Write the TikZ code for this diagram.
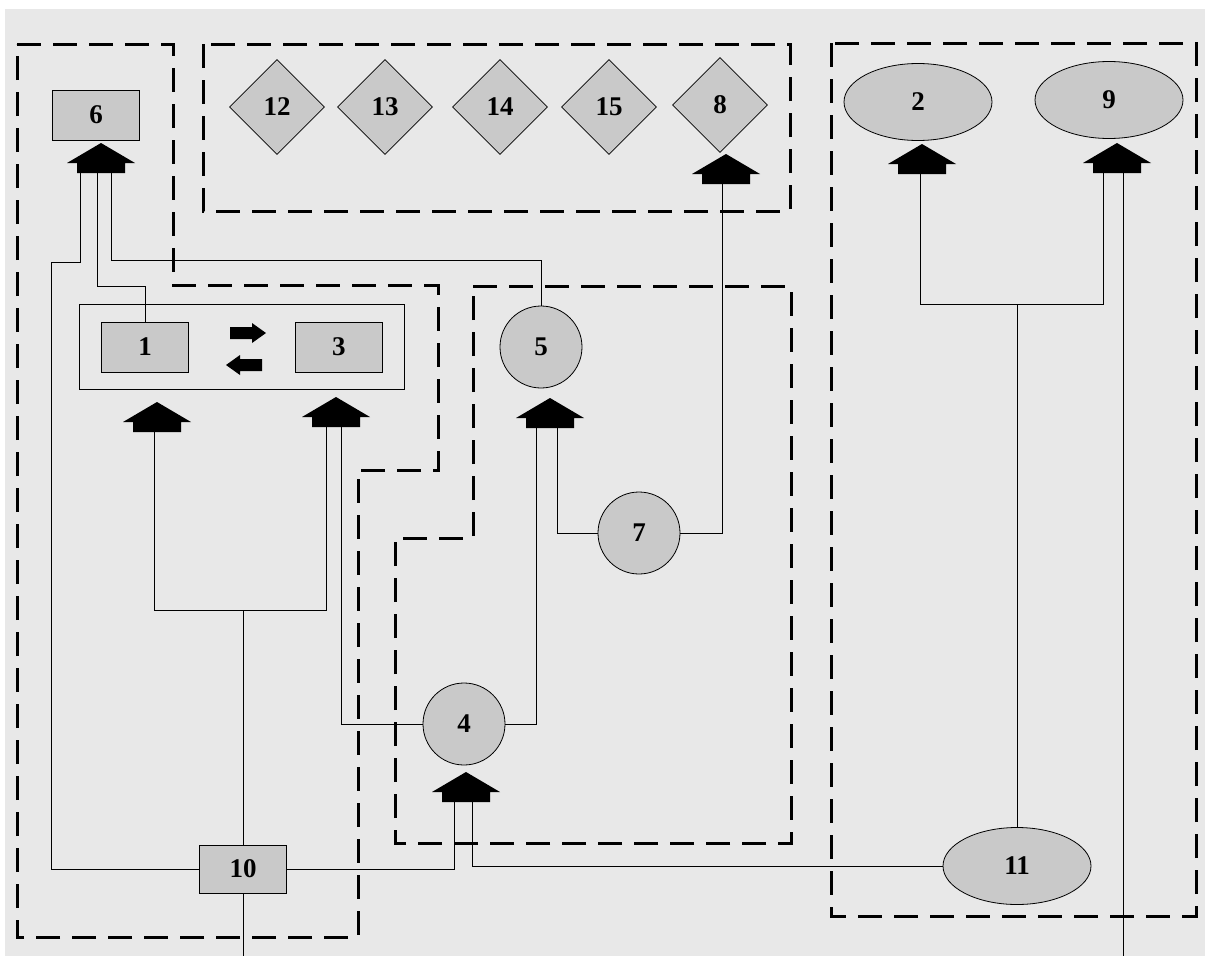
\documentclass[tikz,border=0pt]{standalone}
\usepackage{fontspec}
\setmainfont{Liberation Serif}
\usepackage{xcolor}
\usetikzlibrary{shapes.geometric,positioning,fit}

\definecolor{paper}{gray}{0.91}
\definecolor{shade}{gray}{0.79}

\begin{document}
\begin{tikzpicture}[
  x=1pt, y=-1pt,
  every node/.style={font=\fontsize{27}{32}\selectfont\bfseries, line width=0.8pt},
  unit/.style={rectangle, draw, fill=shade, minimum width=87pt,
               minimum height=50pt, inner sep=0pt},
  dia/.style={diamond, draw, fill=shade, aspect=1, minimum size=95pt, inner sep=0pt},
  disc/.style={circle, draw, fill=shade, minimum size=82pt, inner sep=0pt},
  oval/.style={ellipse, draw, fill=shade, minimum width=148pt,
               minimum height=77pt, inner sep=0pt},
  pairbox/.style={rectangle, draw, inner xsep=22pt, inner ysep=17pt},
  zone/.style={line width=3pt, dash pattern=on 24pt off 12pt},
  wire/.style={line width=0.8pt},
  bigup/.pic={
    \fill (0,0) -- (34,20) -- (24,20) -- (24,30) -- (-24,30) -- (-24,20)
      -- (-34,20) -- cycle;
    \coordinate (-s) at (0,30);
  },
  flat/.pic={
    \fill (0,0) -- (-14,-10) -- (-14,-6) -- (-36,-6) -- (-36,6) -- (-14,6)
      -- (-14,10) -- cycle;
  },
]
  \useasboundingbox (0,0) rectangle (1205,956);
  \fill[white] (0,0) rectangle (1205,956);
  \fill[paper] (5,9) rectangle (1205,956);

  % dashed groups
  \draw[zone] (17,44) -- (173,44) -- (173,285) -- (438,285) -- (438,470)
    -- (358,470) -- (358,937) -- (17,937) -- cycle;
  \draw[zone] (203,44) rectangle (790,211);
  \draw[zone] (473,286) -- (791,286) -- (791,843) -- (395,843) -- (395,538)
    -- (473,538) -- cycle;
  \draw[zone] (831,43) rectangle (1196,916);

  % blocks
  \node[unit] (n6) at (96,115) {6};
  \foreach \n/\x in {12/277, 13/385, 14/500, 15/609}
    \node[dia] (d\n) at (\x,107) {\n};
  \node[dia] (d8) at (720,105) {8};
  \node[oval] (n2) at (918,102) {2};
  \node[oval] (n9) at (1109,100) {9};

  \node[unit] (n1) at (145,347) {1};
  \node[unit, right=106pt of n1] (n3) {3};
  \node[pairbox, fit=(n1)(n3)] (pair) {};
  \pic (r13) at (266,333) {flat};
  \pic[xscale=-1] (r31) at (226,365) {flat};

  \node[disc] (n5) at (541,347) {5};
  \node[disc] (n7) at (639,533) {7};
  \node[disc] (n4) at (464,724) {4};
  \node[unit, minimum height=48pt] (n10) at (243,869) {10};
  \node[oval] (n11) at (1017,866) {11};

  % block arrows
  \pic (a6) at (101,143) {bigup};
  \pic (a8) at (726,154) {bigup};
  \pic (a2) at (922,144) {bigup};
  \pic (a9) at (1117,143) {bigup};
  \pic (a1) at (157,402) {bigup};
  \pic (a3) at (336,397) {bigup};
  \pic (a5) at (550,398) {bigup};
  \pic (a4) at (466,772) {bigup};

  % links
  \draw[wire] (n10.west) -| (51,262) -| ([xshift=-21pt]a6-s);
  \draw[wire] (n1.north) -- ++(0,-35) -| ([xshift=-4pt]a6-s);
  \draw[wire] (n5.north) -- ++(0,-45) -| ([xshift=10pt]a6-s);

  \draw[wire] (n10.north) -- ++(0,-234) coordinate (j10);
  \draw[wire] (j10) -| ([xshift=-3pt]a1-s);
  \draw[wire] (j10) -| ([xshift=-10pt]a3-s);
  \draw[wire] (n10.south) -- ++(0,63);
  \draw[wire] (n10.east) -| ([xshift=-12pt]a4-s);
  \draw[wire] (n11.west) -| ([xshift=6pt]a4-s);

  \draw[wire] (n4.west) -| ([xshift=5pt]a3-s);
  \draw[wire] (n4.east) -| ([xshift=-14pt]a5-s);
  \draw[wire] (n7.west) -| ([xshift=7pt]a5-s);
  \draw[wire] (n7.east) -| ([xshift=-4pt]a8-s);

  \draw[wire] (n11.north) -- ++(0,-523) coordinate (j11);
  \draw[wire] (j11) -| ([xshift=-2pt]a2-s);
  \draw[wire] (j11) -| ([xshift=-14pt]a9-s);
  \draw[wire] ([xshift=6pt]a9-s) -- ++(0,783);
\end{tikzpicture}
\end{document}
